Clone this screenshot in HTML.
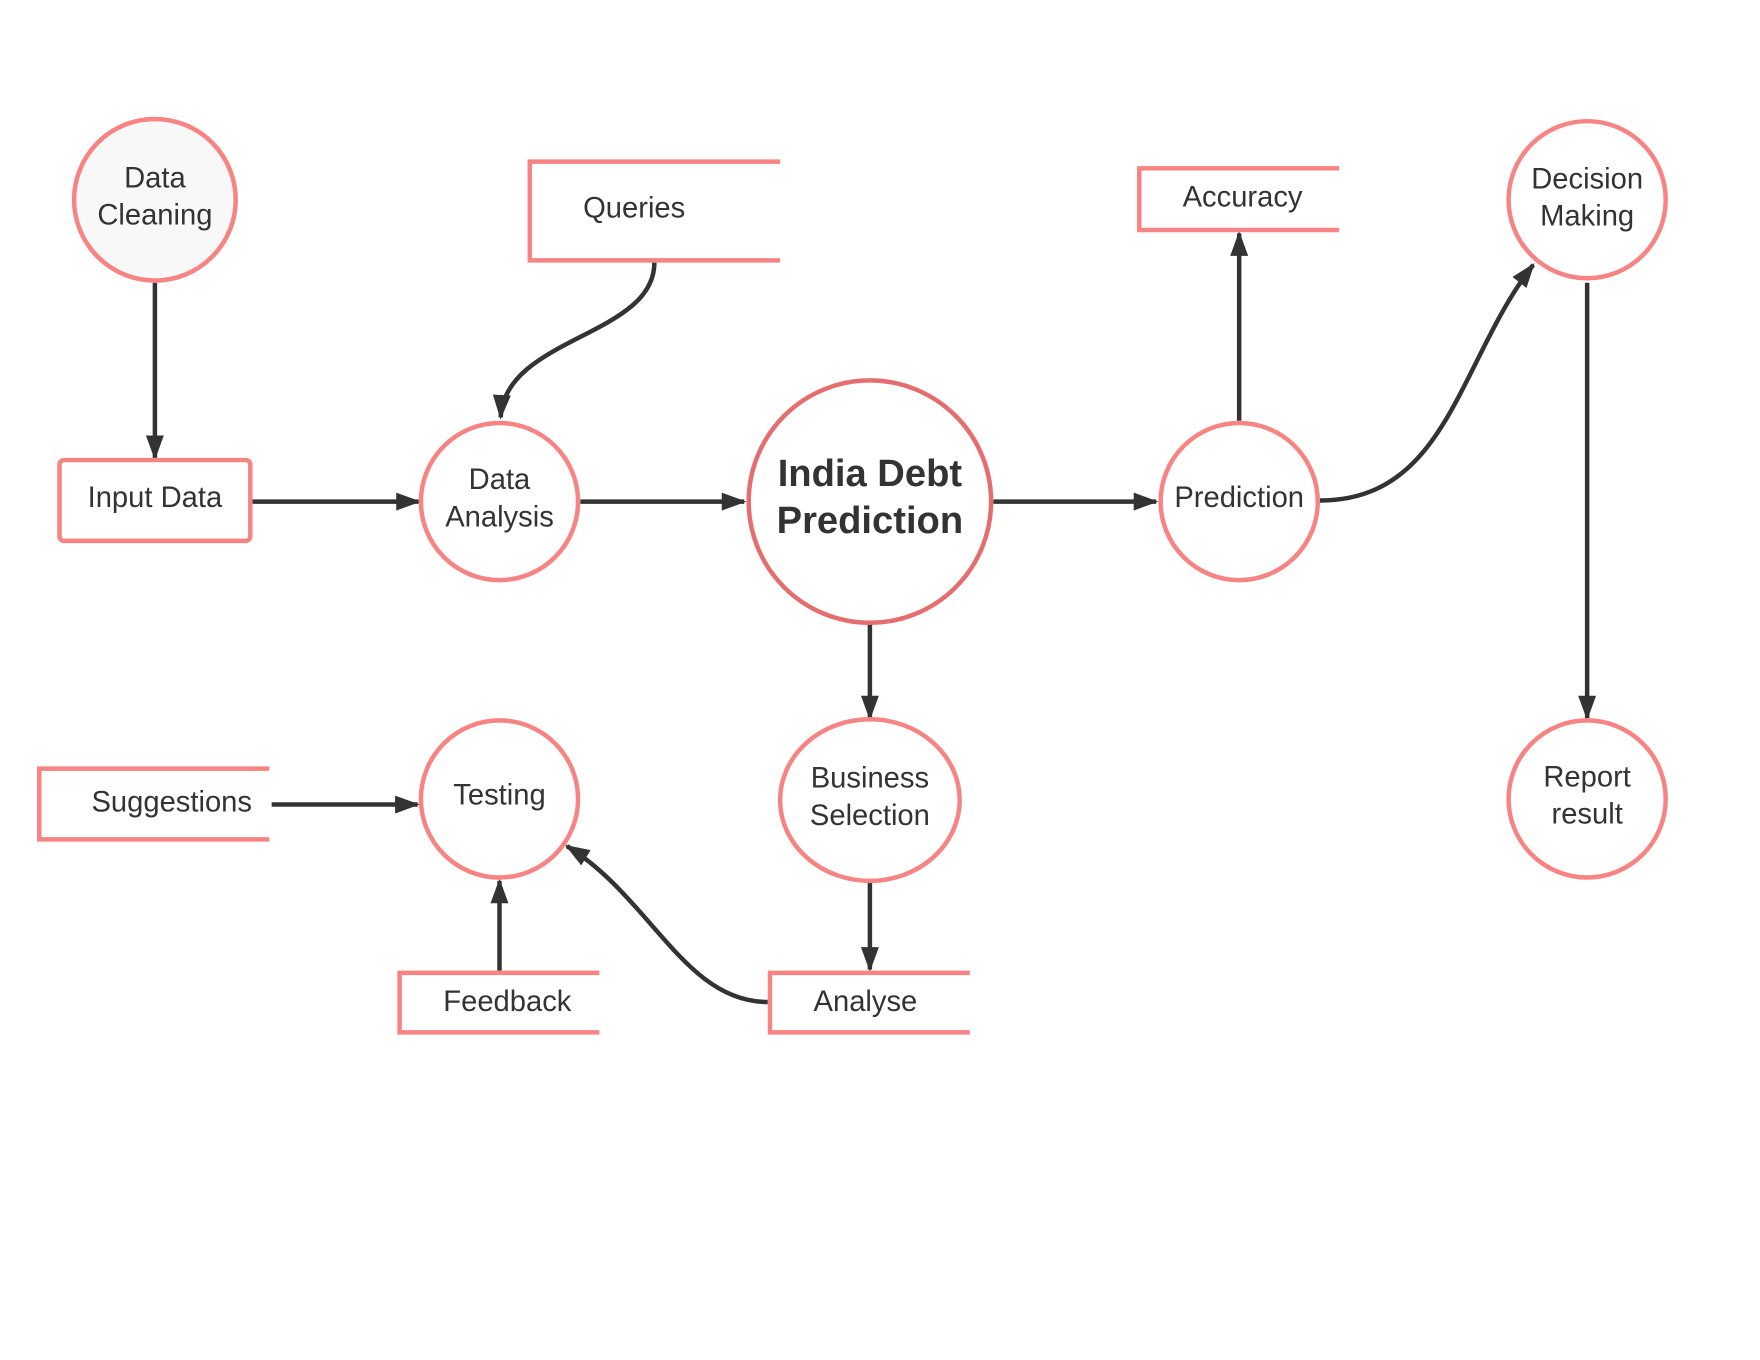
<!DOCTYPE html>
<html><head><meta charset="utf-8"><style>
html,body{margin:0;padding:0;background:#fff;}
svg{display:block;}
text{font-family:"Liberation Sans",sans-serif;fill:#333;font-size:26px;text-anchor:middle;}
</style></head><body>
<svg width="1760" height="1360" viewBox="0 0 1568 1212" preserveAspectRatio="none">
<defs>
<marker id="b" markerWidth="22" markerHeight="16" refX="20" refY="8" orient="auto" markerUnits="userSpaceOnUse"><path d="M0,0 L22,8 L0,16 Z" fill="#333"/></marker></defs>
<g fill="none" stroke="#333" stroke-width="4" marker-end="url(#b)">
<path d="M138,252 V408"/>
<path d="M225,447 H373"/>
<path d="M517,447 H663"/>
<path d="M885,447 H1030"/>
<path d="M583,234 C583,300 450,300 446,372"/>
<path d="M1104,375 V208"/>
<path d="M1176,446 C1290,446 1300,320 1366,236"/>
<path d="M1414,252 V640"/>
<path d="M775,556 V640"/>
<path d="M775,786 V864"/>
<path d="M242,717 H372"/>
<path d="M445,865 V785"/>
<path d="M684,893 C610,893 580,800 505,754"/>
</g>
<g stroke="#f78383" stroke-width="4" fill="#fff">
<circle cx="138" cy="178" r="72" fill="#f8f8f8"/>
<circle cx="1414" cy="178" r="70"/>
<circle cx="445" cy="447" r="70"/>
<circle cx="775" cy="447" r="108" stroke="#e56d6d"/>
<circle cx="1104" cy="447" r="70"/>
<ellipse cx="775" cy="713" rx="80" ry="72"/>
<circle cx="445" cy="712" r="70"/>
<circle cx="1414" cy="712" r="70"/>
<rect x="53" y="410" width="170" height="72" rx="4"/>
<path d="M695,144 H472 V232 H695" fill="none"/>
<path d="M1193,150 H1015 V205 H1193" fill="none"/>
<path d="M240,685 H35 V748 H240" fill="none"/>
<path d="M534,867 H356 V920 H534" fill="none"/>
<path d="M864,867 H686 V920 H864" fill="none"/>
</g>
<text x="138" y="167">Data</text><text x="138" y="200">Cleaning</text>
<text x="565" y="194">Queries</text>
<text x="1107" y="184">Accuracy</text>
<text x="1414" y="168">Decision</text><text x="1414" y="201">Making</text>
<text x="138" y="452">Input Data</text>
<text x="445" y="436">Data</text><text x="445" y="469">Analysis</text>
<text x="775" y="433" style="font-weight:bold;font-size:34px">India Debt</text>
<text x="775" y="475" style="font-weight:bold;font-size:34px">Prediction</text>
<text x="1104" y="452">Prediction</text>
<text x="775" y="702">Business</text><text x="775" y="735">Selection</text>
<text x="445" y="717">Testing</text>
<text x="1414" y="701">Report</text><text x="1414" y="734">result</text>
<text x="153" y="723">Suggestions</text>
<text x="452" y="901">Feedback</text>
<text x="771" y="901">Analyse</text>
</svg>
</body></html>
